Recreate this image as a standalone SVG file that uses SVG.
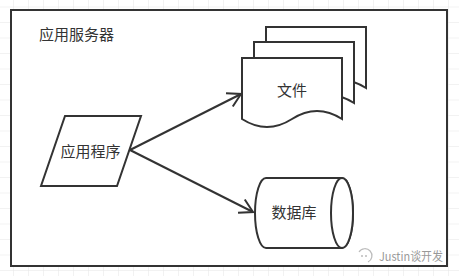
<svg xmlns="http://www.w3.org/2000/svg" width="459" height="276" viewBox="0 0 459 276">
  <defs>
    <pattern id="grid" x="13" y="6.5" width="15" height="15.5" patternUnits="userSpaceOnUse">
      <path d="M0,0 V15.5 M0,0 H15" fill="none" stroke="#e6e6e6" stroke-width="1"/>
    </pattern>
    <marker id="open" markerUnits="userSpaceOnUse" markerWidth="20" markerHeight="20" refX="0" refY="0" viewBox="-16 -10 20 20" orient="auto">
      <path d="M-13,-7.5 L0,0 L-13,7.5" fill="none" stroke="#333" stroke-width="2"/>
    </marker>
  </defs>
  <style>
    .shape { fill: #fff; stroke: #333; stroke-width: 2; }
    .label { font-family: "Noto Sans CJK SC", "Liberation Sans", sans-serif; font-size: 15px; fill: #333; }
    .edge { fill: none; stroke: #333; stroke-width: 2; }
  </style>
  <rect x="0" y="0" width="459" height="276" fill="#fff"/>
  <rect x="0" y="0" width="459" height="276" fill="url(#grid)"/>

  <g id="server">
    <rect class="shape" x="11" y="10" width="436" height="256"/>
    <text class="label" x="39" y="40">应用服务器</text>
  </g>

  <g id="app">
    <polygon class="shape" points="65,116 141,116 117,186 41,186"/>
    <text class="label" x="90.5" y="156.5" text-anchor="middle">应用程序</text>
  </g>

  <g id="files">
    <path class="shape" d="M266,27 H366 V88 Q341,72 316,88 T266,88 Z"/>
    <path class="shape" d="M254,42 H354 V103 Q329,87 304,103 T254,103 Z"/>
    <path class="shape" d="M242,58 H342 V119 Q317,103 292,119 T242,119 Z"/>
    <text class="label" x="292" y="95.5" text-anchor="middle">文件</text>
  </g>

  <g id="database">
    <path class="shape" d="M266,178 H342 A11,35 0 0 1 342,248 H266 A11,35 0 0 1 266,178 Z"/>
    <ellipse class="shape" cx="342" cy="213" rx="11" ry="35"/>
    <text class="label" x="294" y="218" text-anchor="middle">数据库</text>
  </g>

  <g id="connectors">
    <line class="edge" x1="130" y1="150" x2="241" y2="94" marker-end="url(#open)"/>
    <line class="edge" x1="130" y1="150" x2="253" y2="212" marker-end="url(#open)"/>
  </g>

  <g id="watermark">
    <path d="M359,252 A7,7 0 1 1 368,262" fill="none" stroke="#bbb" stroke-width="1.2"/>
    <circle cx="362" cy="256" r="1" fill="#bbb"/>
    <circle cx="366" cy="256" r="1" fill="#bbb"/>
    <text x="379" y="261" font-family="Noto Sans CJK SC, Liberation Sans, sans-serif" font-size="12" fill="#999" textLength="64" lengthAdjust="spacingAndGlyphs">Justin谈开发</text>
  </g>
</svg>
